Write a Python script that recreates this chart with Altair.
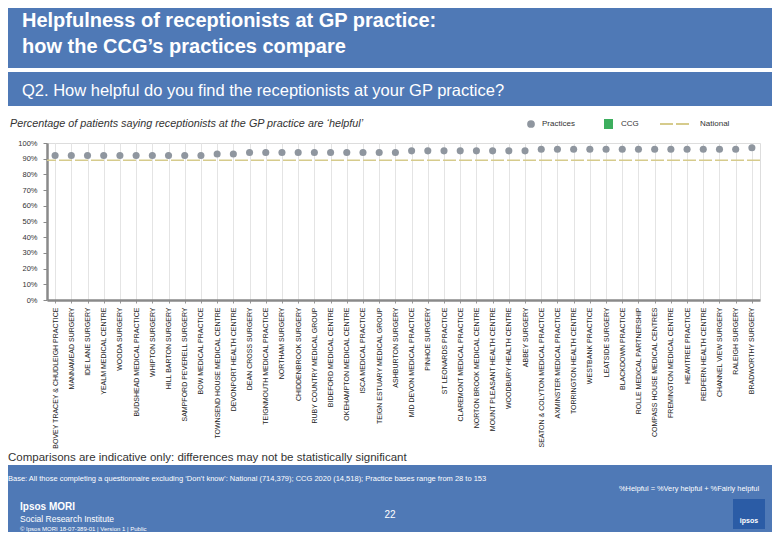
import altair as alt
import pandas as pd

practices = [
    "BOVEY TRACEY & CHUDLEIGH PRACTICE", "MANNAMEAD SURGERY", "IDE LANE SURGERY",
    "YEALM MEDICAL CENTRE", "WOODA SURGERY", "BUDSHEAD MEDICAL PRACTICE",
    "WHIPTON SURGERY", "HILL BARTON SURGERY", "SAMPFORD PEVERELL SURGERY",
    "BOW MEDICAL PRACTICE", "TOWNSEND HOUSE MEDICAL CENTRE", "DEVONPORT HEALTH CENTRE",
    "DEAN CROSS SURGERY", "TEIGNMOUTH MEDICAL PRACTICE", "NORTHAM SURGERY",
    "CHIDDENBROOK SURGERY", "RUBY COUNTRY MEDICAL GROUP", "BIDEFORD MEDICAL CENTRE",
    "OKEHAMPTON MEDICAL CENTRE", "ISCA MEDICAL PRACTICE", "TEIGN ESTUARY MEDICAL GROUP",
    "ASHBURTON SURGERY", "MID DEVON MEDICAL PRACTICE", "PINHOE SURGERY",
    "ST LEONARDS PRACTICE", "CLAREMONT MEDICAL PRACTICE", "NORTON BROOK MEDICAL CENTRE",
    "MOUNT PLEASANT HEALTH CENTRE", "WOODBURY HEALTH CENTRE", "ABBEY SURGERY",
    "SEATON & COLYTON MEDICAL PRACTICE", "AXMINSTER MEDICAL PRACTICE",
    "TORRINGTON HEALTH CENTRE", "WESTBANK PRACTICE", "LEATSIDE SURGERY",
    "BLACKDOWN PRACTICE", "ROLLE MEDICAL PARTNERSHIP", "COMPASS HOUSE MEDICAL CENTRES",
    "FREMINGTON MEDICAL CENTRE", "HEAVITREE PRACTICE", "REDFERN HEALTH CENTRE",
    "CHANNEL VIEW SURGERY", "RALEIGH SURGERY", "BRADWORTHY SURGERY",
]
helpful = [
    92, 92, 92, 92, 92, 92, 92, 92, 92, 92,
    93, 93,
    94, 94, 94, 94, 94, 94, 94, 94, 94, 94,
    95, 95, 95, 95, 95, 95, 95, 95,
    96, 96, 96, 96, 96, 96, 96, 96, 96, 96, 96, 96, 96,
    97,
]
national = 89
y_ticks = [0, 10, 20, 30, 40, 50, 60, 70, 80, 90, 100]

FONT = "Liberation Sans"
BLUE = "#4F79B6"
DOT = "#8F969F"
NAT = "#D6CB8C"
GREEN = "#3DAE5E"

df = pd.DataFrame({"practice": practices, "value": [v / 100 for v in helpful]})
nat_df = pd.DataFrame({"value": [national / 100]})

x_enc = alt.X(
    "practice:N", sort=practices, title=None,
    axis=alt.Axis(labelAngle=-90, labelFontSize=7, labelColor="#222", labelFont=FONT,
                  labelLimit=220, labelPadding=4, grid=True, gridColor="#E4E4E4",
                  bandPosition=0.5, tickColor="#999", tickSize=3, domainColor="#8A8A8A",
                  domainWidth=2.5, labelOverlap=False),
    scale=alt.Scale(paddingInner=0, paddingOuter=0),
)
y_axis = alt.Axis(values=[t / 100 for t in y_ticks], format=".0%", labelFontSize=7.5,
                  labelColor="#333", labelFont=FONT, grid=False, tickColor="#8A8A8A",
                  tickSize=4, domainColor="#8A8A8A", domainWidth=2.5, labelPadding=6,
                  labelOverlap=False)
y_enc = alt.Y("value:Q", title=None, scale=alt.Scale(domain=[0, 1]), axis=y_axis)

nat_line = alt.Chart(nat_df).mark_rule(color=NAT, strokeWidth=1.6, strokeDash=[13, 3]).encode(
    y=y_enc)
points = alt.Chart(df).mark_circle(size=50, color=DOT, opacity=1).encode(x=x_enc, y=y_enc)

one = alt.Data(values=[{"a": 1}])


def rect(x1, x2, y1, y2, color):
    return alt.Chart(one).mark_rect(color=color).encode(
        x=alt.value(x1), x2=alt.value(x2), y=alt.value(y1), y2=alt.value(y2))


def text(t, x, y, size, color="#333", weight="normal", style="normal", align="left"):
    return alt.Chart(one).mark_text(
        text=t, align=align, baseline="middle", font=FONT, fontSize=size, color=color,
        fontWeight=weight, fontStyle=style).encode(x=alt.value(x), y=alt.value(y))


layers = [
    rect(-39, 725, -135, -75, BLUE),
    text("Helpfulness of receptionists at GP practice:", -25, -122, 20, "white", "bold"),
    text("how the CCG\u2019s practices compare", -25, -96, 20, "white", "bold"),
    rect(-39, 725, -71, -37, BLUE),
    text("Q2. How helpful do you find the receptionists at your GP practice?", -25, -52, 16.5,
         "white"),
    text("Percentage of patients saying receptionists at the GP practice are \u2018helpful\u2019",
         -37, -19, 10.8, "#333", style="italic"),
    alt.Chart(one).mark_point(filled=True, shape="circle", size=60, color=DOT, opacity=1).encode(
        x=alt.value(484), y=alt.value(-19)),
    text("Practices", 495, -19, 8),
    rect(557, 566, -24, -14, GREEN),
    text("CCG", 574, -19, 8),
    alt.Chart(one).mark_rule(color=NAT, strokeWidth=2, strokeDash=[13, 3]).encode(
        x=alt.value(613), x2=alt.value(643), y=alt.value(-19)),
    text("National", 653, -19, 8),
    nat_line,
    points,
    text("Comparisons are indicative only: differences may not be statistically significant",
         -39, 315, 11.5, "#333"),
    rect(-39, 725, 322, 389, BLUE),
    text("Base: All those completing a questionnaire excluding \u2018Don\u2019t know\u2019: National "
         "(714,379); CCG 2020 (14,518); Practice bases range from 28 to 153", -39, 336, 7.5,
         "white"),
    text("%Helpful = %Very helpful + %Fairly helpful", 572, 346, 7.4, "white"),
    text("22", 343, 372, 10, "white", align="center"),
    text("Ipsos MORI", -27, 364, 10, "white", "bold"),
    text("Social Research Institute", -27, 376, 8.5, "white"),
    text("\u00a9 Ipsos MORI      18-07-389-01 | Version 1 | Public", -27, 386, 6, "white"),
    rect(686, 718, 356, 386, "#2B5CA6"),
    text("ipsos", 702, 378, 7, "white", "bold", align="center"),
]

chart = alt.layer(*layers).properties(
    width=713, height=157,
    autosize=alt.AutoSizeParams(type="none"),
    padding={"left": 39, "top": 135, "right": 12, "bottom": 232},
).configure_view(stroke=None).configure(font=FONT)

chart.save("out.html", embed_options={"renderer": "svg", "actions": False})
